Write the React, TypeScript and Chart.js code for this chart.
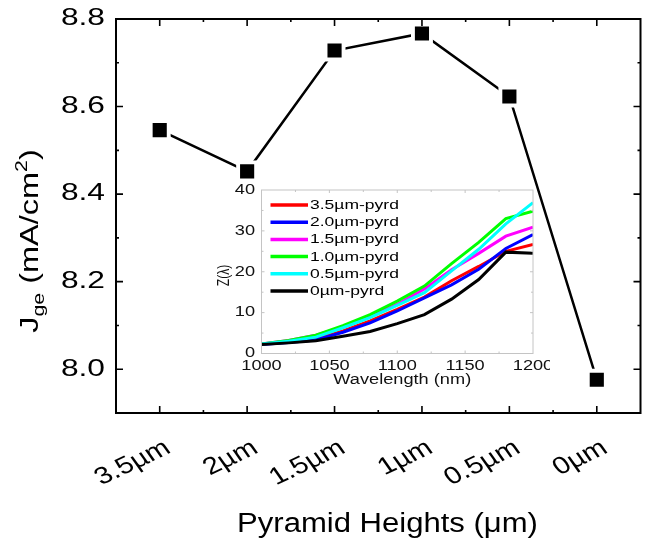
import React, { useEffect, useRef } from 'react';
import { Chart, registerables } from 'chart.js';

Chart.register(...registerables);

// ---------- Main chart data ----------
const heights = ['3.5µm', '2µm', '1.5µm', '1µm', '0.5µm', '0µm'];
const jge = [8.546, 8.452, 8.728, 8.767, 8.623, 7.976];
const jgeTicks = [8.0, 8.2, 8.4, 8.6, 8.8];

// ---------- Inset data ----------
const wavelengths = [1000, 1020, 1040, 1060, 1080, 1100, 1120, 1140, 1160, 1180, 1200];
const z35 = [2.3, 2.8, 3.5, 5.5, 8.0, 10.8, 13.8, 17.8, 21.3, 25.0, 26.7];
const z20 = [2.2, 2.7, 3.3, 5.2, 7.5, 10.4, 13.6, 16.8, 20.6, 25.7, 29.1];
const z15 = [2.3, 3.2, 4.5, 6.5, 9.0, 12.0, 15.8, 20.5, 24.5, 28.7, 30.9];
const z10 = [2.3, 3.2, 4.5, 6.8, 9.5, 12.8, 16.5, 22.0, 27.2, 33.0, 34.8];
const z05 = [2.3, 3.0, 4.0, 6.3, 8.8, 11.8, 14.9, 20.2, 25.5, 31.7, 36.9];
const z00 = [2.2, 2.6, 3.1, 4.2, 5.4, 7.3, 9.5, 13.3, 18.1, 24.8, 24.5];
const insetNames = ['3.5µm-pyrd', '2.0µm-pyrd', '1.5µm-pyrd', '1.0µm-pyrd', '0.5µm-pyrd', '0µm-pyrd'];
const insetSeries = [z35, z20, z15, z10, z05, z00];
const insetColors = ['#ff0000', '#0000ff', '#ff00ff', '#00ff00', '#00ffff', '#000000'];
const insetXTicks = [1000, 1050, 1100, 1150, 1200];
const insetYTicks = [0, 10, 20, 30, 40];

const FONT = 'Arial, "Liberation Sans", Helvetica, sans-serif';

type TOpt = {
  size: number; sx?: number; sy?: number; rot?: number;
  align?: CanvasTextAlign; baseline?: CanvasTextBaseline; color?: string;
};
function drawText(ctx: CanvasRenderingContext2D, text: string, x: number, y: number, o: TOpt) {
  ctx.save();
  ctx.translate(x, y);
  ctx.scale(o.sx ?? 1, o.sy ?? 1);
  if (o.rot) ctx.rotate(o.rot);
  ctx.font = `${o.size}px ${FONT}`;
  ctx.textAlign = o.align ?? 'left';
  ctx.textBaseline = o.baseline ?? 'alphabetic';
  ctx.fillStyle = o.color ?? '#000';
  ctx.fillText(text, 0, 0);
  ctx.restore();
}

const mainDecor = {
  id: 'mainDecor',
  afterDraw(chart: any) {
    const { ctx, chartArea: a, scales } = chart;
    const x = scales.x, y = scales.y;
    ctx.save();
    ctx.strokeStyle = '#000';
    ctx.lineWidth = 2;
    ctx.strokeRect(a.left, a.top, a.right - a.left, a.bottom - a.top);
    ctx.lineWidth = 1.6;
    ctx.beginPath();
    const n = heights.length;
    const step = x.getPixelForValue(1) - x.getPixelForValue(0);
    for (let i = 0; i < n; i++) {
      const px = x.getPixelForValue(i);
      ctx.moveTo(px, a.bottom); ctx.lineTo(px, a.bottom - 7);
      ctx.moveTo(px, a.top); ctx.lineTo(px, a.top + 7);
    }
    for (let i = 1; i < n; i++) {
      const px = x.getPixelForValue(i) - step / 2;
      ctx.moveTo(px, a.bottom); ctx.lineTo(px, a.bottom - 3);
      ctx.moveTo(px, a.top); ctx.lineTo(px, a.top + 3);
    }
    for (let i = 0; i < jgeTicks.length; i++) {
      const py = y.getPixelForValue(jgeTicks[i]);
      ctx.moveTo(a.left, py); ctx.lineTo(a.left + 7, py);
      ctx.moveTo(a.right, py); ctx.lineTo(a.right - 7, py);
      if (i < jgeTicks.length - 1) {
        const pm = y.getPixelForValue((jgeTicks[i] + jgeTicks[i + 1]) / 2);
        ctx.moveTo(a.left, pm); ctx.lineTo(a.left + 3, pm);
        ctx.moveTo(a.right, pm); ctx.lineTo(a.right - 3, pm);
      }
    }
    ctx.stroke();
    ctx.restore();

    // y tick labels
    jgeTicks.forEach(v => {
      drawText(ctx, v.toFixed(1), a.left - 11, y.getPixelForValue(v), {
        size: 23, sx: 1.38, align: 'right', baseline: 'middle',
      });
    });
    // x tick labels (rotated)
    heights.forEach((lab, i) => {
      const px = x.getPixelForValue(i);
      ctx.save();
      ctx.translate(px + 12.4, a.bottom + 39);
      ctx.scale(1.22, 1);
      ctx.rotate(-Math.PI / 6);
      ctx.font = `24px ${FONT}`;
      ctx.textAlign = 'right';
      ctx.textBaseline = 'alphabetic';
      ctx.fillStyle = '#000';
      ctx.fillText(lab, 0, 0);
      ctx.restore();
    });
    // x title
    drawText(ctx, 'Pyramid Heights (μm)', 387.5, 531.5, { size: 27, sx: 1.15, align: 'center' });

    // y title with sub/superscript
    const parts = [
      { t: 'J', s: 26, dy: 0 },
      { t: 'ge', s: 17, dy: 6 },
      { t: ' (mA/cm', s: 26, dy: 0 },
      { t: '2', s: 17, dy: -11 },
      { t: ')', s: 26, dy: 0 },
    ];
    ctx.save();
    let total = 0;
    const widths = parts.map(p => {
      ctx.font = `${p.s}px ${FONT}`;
      const w = ctx.measureText(p.t).width;
      total += w;
      return w;
    });
    const sy = 1.25;
    ctx.translate(38, 241);
    ctx.scale(1, sy);
    ctx.rotate(-Math.PI / 2);
    ctx.fillStyle = '#000';
    ctx.textBaseline = 'alphabetic';
    ctx.textAlign = 'left';
    let cx = -total / 2;
    parts.forEach((p, i) => {
      ctx.font = `${p.s}px ${FONT}`;
      ctx.fillText(p.t, cx, p.dy);
      cx += widths[i];
    });
    ctx.restore();
  },
};

const insetDecor = {
  id: 'insetDecor',
  afterDraw(chart: any) {
    const { ctx, chartArea: a, scales } = chart;
    const x = scales.x, y = scales.y;
    ctx.save();
    ctx.strokeStyle = '#c4c4c4';
    ctx.lineWidth = 1;
    ctx.strokeRect(a.left, a.top, a.right - a.left, a.bottom - a.top);
    ctx.beginPath();
    for (let i = 0; i < insetXTicks.length - 1; i++) {
      const p = x.getPixelForValue(insetXTicks[i]);
      const m = x.getPixelForValue((insetXTicks[i] + insetXTicks[i + 1]) / 2);
      if (i > 0) {
        ctx.moveTo(p, a.top); ctx.lineTo(p, a.top + 3);
        ctx.moveTo(p, a.bottom); ctx.lineTo(p, a.bottom - 3);
      }
      ctx.moveTo(m, a.top); ctx.lineTo(m, a.top + 2);
      ctx.moveTo(m, a.bottom); ctx.lineTo(m, a.bottom - 2);
    }
    for (let i = 0; i < insetYTicks.length - 1; i++) {
      const p = y.getPixelForValue(insetYTicks[i]);
      const m = y.getPixelForValue((insetYTicks[i] + insetYTicks[i + 1]) / 2);
      if (i > 0) {
        ctx.moveTo(a.left, p); ctx.lineTo(a.left + 3, p);
        ctx.moveTo(a.right, p); ctx.lineTo(a.right - 3, p);
      }
      ctx.moveTo(a.left, m); ctx.lineTo(a.left + 2, m);
      ctx.moveTo(a.right, m); ctx.lineTo(a.right - 2, m);
    }
    ctx.stroke();
    ctx.restore();

    // tick labels
    insetXTicks.forEach(v => {
      drawText(ctx, String(v), x.getPixelForValue(v), a.bottom + 16.5, { size: 14, sx: 1.3, align: 'center', color: '#111' });
    });
    insetYTicks.forEach(v => {
      drawText(ctx, String(v), a.left - 6.5, y.getPixelForValue(v), { size: 14, sx: 1.3, align: 'right', baseline: 'middle', color: '#111' });
    });

    // legend
    insetNames.forEach((name, i) => {
      const ly = a.top + 15 + i * 17.2;
      ctx.save();
      ctx.strokeStyle = insetColors[i];
      ctx.lineWidth = 3.5;
      ctx.beginPath();
      ctx.moveTo(a.left + 9, ly);
      ctx.lineTo(a.left + 46.5, ly);
      ctx.stroke();
      ctx.restore();
      drawText(ctx, name, a.left + 48.5, ly + 0.5, { size: 12.5, sx: 1.4, baseline: 'middle' });
    });

    // axis titles
    drawText(ctx, 'Wavelength (nm)', (a.left + a.right) / 2 + 5, a.bottom + 30, { size: 14, sx: 1.3, align: 'center', color: '#111' });
    ctx.save();
    ctx.translate(29, 100.5);
    ctx.scale(1.3, 1);
    ctx.rotate(-Math.PI / 2);
    ctx.font = `12px ${FONT}`;
    ctx.textAlign = 'center';
    ctx.textBaseline = 'alphabetic';
    ctx.fillStyle = '#111';
    ctx.fillText('Z(λ)', 0, 0);
    ctx.restore();
  },
};

export default function App() {
  const mainRef = useRef<HTMLCanvasElement>(null);
  const insetRef = useRef<HTMLCanvasElement>(null);

  useEffect(() => {
    document.body.style.margin = '0';
    const main = new Chart(mainRef.current!, {
      type: 'line',
      data: {
        labels: heights,
        datasets: [
          {
            data: jge,
            borderColor: '#000',
            borderWidth: 2.5,
            pointRadius: 0,
            tension: 0,
            order: 2,
          },
          {
            data: jge,
            showLine: false,
            pointStyle: 'rect',
            pointRadius: 15.5,
            pointBackgroundColor: '#fff',
            pointBorderWidth: 0,
            order: 1,
          },
          {
            data: jge,
            showLine: false,
            pointStyle: 'rect',
            pointRadius: 10,
            pointBackgroundColor: '#000',
            pointBorderWidth: 0,
            order: 0,
          },
        ],
      },
      options: {
        animation: false,
        responsive: false,
        layout: { padding: { top: 19, right: 6, left: 0, bottom: 0 } },
        plugins: { legend: { display: false }, tooltip: { enabled: false } },
        scales: {
          x: {
            type: 'category',
            offset: true,
            grid: { display: false, drawTicks: false },
            border: { display: false },
            ticks: { display: false },
            afterFit: (s: any) => { s.height = 131; },
          },
          y: {
            min: 7.9,
            max: 8.8,
            grid: { display: false, drawTicks: false },
            border: { display: false },
            afterBuildTicks: (s: any) => { s.ticks = jgeTicks.map(v => ({ value: v })); },
            ticks: { display: false },
            afterFit: (s: any) => { s.width = 116; },
          },
        },
      },
      plugins: [mainDecor],
    } as any);

    const inset = new Chart(insetRef.current!, {
      type: 'line',
      data: {
        datasets: insetSeries.map((ser, i) => ({
          label: insetNames[i],
          data: wavelengths.map((w, j) => ({ x: w, y: ser[j] })),
          borderColor: insetColors[i],
          borderWidth: 3,
          pointRadius: 0,
          tension: 0,
          order: insetSeries.length - i,
        })),
      },
      options: {
        animation: false,
        responsive: false,
        layout: { padding: { top: 15, right: 17, left: 0, bottom: 0 } },
        plugins: { legend: { display: false }, tooltip: { enabled: false } },
        scales: {
          x: {
            type: 'linear',
            min: 1000,
            max: 1200,
            grid: { display: false, drawTicks: false },
            border: { display: false },
            ticks: { display: false },
            afterFit: (s: any) => { s.height = 36.5; },
          },
          y: {
            min: 0,
            max: 40,
            grid: { display: false, drawTicks: false },
            border: { display: false },
            ticks: { display: false },
            afterFit: (s: any) => { s.width = 61.5; },
          },
        },
      },
      plugins: [insetDecor],
    } as any);

    return () => {
      main.destroy();
      inset.destroy();
    };
  }, []);

  return (
    <div style={{ position: 'relative', width: 649, height: 544, overflow: 'hidden', background: '#fff' }}>
      <canvas ref={mainRef} width={656} height={544} style={{ position: 'absolute', left: 0, top: 0 }} />
      <canvas ref={insetRef} width={350} height={215} style={{ position: 'absolute', left: 200, top: 175 }} />
    </div>
  );
}
